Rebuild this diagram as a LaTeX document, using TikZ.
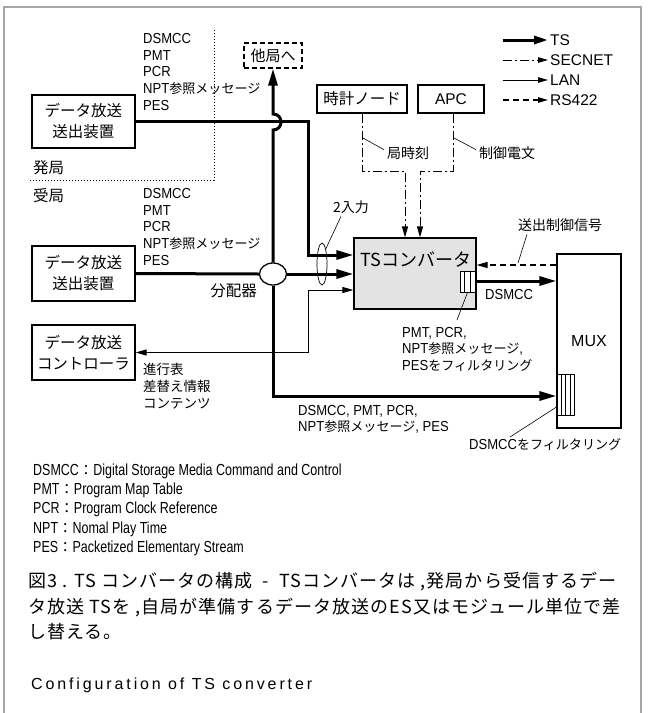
\documentclass[tikz,border=0pt]{standalone}
\usepackage{fontspec}
\setmainfont{Liberation Sans}
\newfontfamily\cnd{Liberation Sans}[FakeStretch=0.9]
\newfontfamily\cndd{Liberation Sans}[FakeStretch=0.78]
\newfontfamily\jp{Noto Sans CJK JP}
\newfontfamily\jps{Noto Sans CJK JP}[Scale=0.9]
\newfontfamily\capjp{Noto Sans CJK JP}[LetterSpace=6]
\newfontfamily\capen{Liberation Sans}[LetterSpace=18]
\usetikzlibrary{arrows.meta,calc,shapes.geometric}
\newcommand\J[1]{{\jps #1}}
\begin{document}
\begin{tikzpicture}[x=1pt,y=-1pt,
 lab/.style={inner sep=0pt, anchor=base west, font=\cnd\fontsize{14.5}{16}\selectfont},
 jlab/.style={inner sep=0pt, anchor=base west, font=\jp\fontsize{13.5}{16}\selectfont},
 jbox/.style={draw, line width=1.2pt, inner sep=0pt, align=center, font=\jp\fontsize{15.5}{21}\selectfont},
 tsl/.style={line width=3pt},
 tsa/.style={tsl, -{Triangle[length=17pt,width=9pt]}},
 lanl/.style={line width=1pt},
 tip/.style={-{Triangle[length=11pt,width=6pt]}},
 secl/.style={line width=1pt, dash pattern=on 9pt off 3pt on 2pt off 3pt},
 rsl/.style={line width=1.2pt, dash pattern=on 6pt off 4pt},
 lead/.style={line width=0.6pt},
 strip/.style={line width=0.8pt},
 lg/.style={inner sep=0pt, anchor=base west, font=\fontsize{15.5}{18}\selectfont},
]
\useasboundingbox (0,0) rectangle (648,713);
% frame
\draw[gray!70, line width=1.6pt] (4,713) -- (4,7) -- (641,7) -- (641,713);
% dotted divider
\draw[line width=0.8pt, dash pattern=on 1pt off 2pt] (214,30) -- (214,180) -- (30,180);

% boxes
\node[jbox, minimum width=103pt, minimum height=53pt] (sendA) at (83.5,121.5) {データ放送\\送出装置};
\node[jbox, minimum width=103pt, minimum height=55pt] (sendB) at (83.5,273.5) {データ放送\\送出装置};
\node[jbox, minimum width=103pt, minimum height=55pt] (ctrl) at (83.5,352.5) {データ放送\\コントローラ};
\node[jbox, dash pattern=on 5pt off 3pt, minimum width=58pt, minimum height=25pt, font=\jp\fontsize{15}{18}\selectfont] (other) at (273,55.5) {他局へ};
\node[jbox, minimum width=90pt, minimum height=28pt] (clock) at (362,99) {時計ノード};
\node[jbox, minimum width=66pt, minimum height=28pt, font=\fontsize{15.5}{18}\selectfont] (apc) at (451,99) {APC};
\node[jbox, fill=gray!22, minimum width=122pt, minimum height=71pt] (tsc) at (415,273.5) {};
\node[inner sep=0pt, anchor=base, font=\jp\fontsize{18}{20}\selectfont] (tsct) at (416,266.5) {TSコンバータ};
\node[jbox, minimum width=64pt, minimum height=174pt, font=\fontsize{16}{18}\selectfont] (mux) at (589,341) {MUX};

% filters
\node[draw, line width=1pt, fill=white, minimum width=15pt, minimum height=21pt, inner sep=0pt] (f1) at (467.5,281.5) {};
\draw[strip] ($(f1.north west)!1/3!(f1.north east)$) -- ($(f1.south west)!1/3!(f1.south east)$)
             ($(f1.north west)!2/3!(f1.north east)$) -- ($(f1.south west)!2/3!(f1.south east)$);
\node[draw, line width=1pt, fill=white, minimum width=17pt, minimum height=41pt, inner sep=0pt] (f2) at (565.5,394.5) {};
\draw[strip] ($(f2.north west)!1/4!(f2.north east)$) -- ($(f2.south west)!1/4!(f2.south east)$)
             ($(f2.north west)!2/4!(f2.north east)$) -- ($(f2.south west)!2/4!(f2.south east)$)
             ($(f2.north west)!3/4!(f2.north east)$) -- ($(f2.south west)!3/4!(f2.south east)$);

% distributor and 2-input ellipse
\node[ellipse, draw, line width=1.3pt, fill=white, minimum width=27pt, minimum height=22pt, inner sep=0pt] (dist) at (273,274) {};
\node[ellipse, draw, line width=0.7pt, minimum width=10pt, minimum height=42pt, inner sep=0pt] (two) at (322,264) {};

% TS connectors
\draw[tsa] (sendA.east) -- (308,121.5) |- ($(tsc.west)+(0,-18.5)$);
\draw[tsl] (sendB.east) -- (dist.west);
\draw[tsa] (dist.east) -- (tsc.west |- dist.east);
\draw[tsa] (dist.north) -- (273,130) .. controls (283.7,130) and (283.7,114) .. (273,114) -- (other.south);
\draw[tsa] (dist.south) -- (273,396) -- ($(mux.west)+(0,55)$);
\draw[tsa] ($(tsc.east)+(0,7.5)$) -- ($(mux.west)+(0,-60)$);
% LAN
\draw[lanl, {Triangle[length=11pt,width=6pt]}-{Triangle[length=11pt,width=6pt]}] (ctrl.east) -- (308,352.5) |- ($(tsc.west)+(0,16.5)$);
% SECNET
\draw[secl, tip] (clock.south) -- (362,171) -- (405,171) -- ($(tsc.north)+(-10,0)$);
\draw[secl, tip] ($(apc.south)+(2,0)$) -- (453,171) -- (420,171) -- ($(tsc.north)+(5,0)$);
% RS422
\draw[rsl, tip] ($(mux.west)+(0,-76)$) -- ($(tsc.east)+(0,-8.5)$);

% legend
\node[lg] (lgts) at (550,45.5) {TS};
\node[lg] (lgsec) at (550,65.5) {SECNET};
\node[lg] (lglan) at (550,85.5) {LAN};
\node[lg] (lgrs) at (550,105.5) {RS422};
\coordinate (l1a) at (503,40); \coordinate (l1b) at (548,40);
\coordinate (l2a) at (503,60); \coordinate (l2b) at (548,60);
\coordinate (l3a) at (503,80); \coordinate (l3b) at (548,80);
\coordinate (l4a) at (503,100); \coordinate (l4b) at (548,100);
\draw[tsl, -{Triangle[length=14pt,width=8pt]}] (l1a) -- (l1b);
\draw[secl, -{Triangle[length=10pt,width=5.5pt]}] (l2a) -- (l2b);
\draw[lanl, -{Triangle[length=10pt,width=5.5pt]}] (l3a) -- (l3b);
\draw[rsl, -{Triangle[length=10pt,width=5.5pt]}] (l4a) -- (l4b);

% station labels
\node[jlab, font=\jp\fontsize{15.5}{18}\selectfont] (hatsu) at (33,173) {発局};
\node[jlab, font=\jp\fontsize{15.5}{18}\selectfont] (uke) at (33,201) {受局};

% TS content lists
\foreach \t [count=\i] in {DSMCC,PMT,PCR,NPT\J{参照メッセージ},PES}
  \node[lab] (ta\i) at (143,{43.2+16.8*(\i-1)}) {\t};
\foreach \t [count=\i] in {DSMCC,PMT,PCR,NPT\J{参照メッセージ},PES}
  \node[lab] (tb\i) at (143,{198.2+16.8*(\i-1)}) {\t};
\foreach \t [count=\i] in {進行表,差替え情報,コンテンツ}
  \node[jlab] (tc\i) at (143,{374+17*(\i-1)}) {\t};

\node[inner sep=0pt, anchor=base east, font=\jp\fontsize{15.5}{18}\selectfont] (distl) at (257,296) {分配器};

% SECNET labels
\node[jlab, font=\jp\fontsize{14}{16}\selectfont] (kl) at (387,158) {局時刻};
\node[jlab, font=\jp\fontsize{14}{16}\selectfont] (sl) at (479,158) {制御電文};
\coordinate (k1) at (363,138); \coordinate (s1) at (454,138);
\draw[lead] (k1) -- ($(kl.west)+(-3,-3)$);
\draw[lead] (s1) -- ($(sl.west)+(-3,-3)$);

% 2 inputs
\node[jlab, font=\jp\fontsize{14}{16}\selectfont] (twol) at (333,212) {2入力};
\draw[lead] ($(twol.south west)+(8,3)$) -- (two.north east);

% send control signal
\node[jlab, font=\jp\fontsize{14}{16}\selectfont] (sig) at (518,230) {送出制御信号};
\coordinate (sig2) at (518,263);
\draw[lead] ($(sig.south west)+(9,3)$) -- (sig2);

% DSMCC output label
\node[lab] (dsm) at (485,299) {DSMCC};

% filter note TS converter
\node[lab] (fa1) at (402,337) {PMT, PCR,};
\node[lab] (fa2) at (402,353) {NPT\J{参照メッセージ},};
\node[lab] (fa3) at (402,370) {PES\J{をフィルタリング}};
\coordinate (fa0) at (457,320);
\draw[lead] (f1.south) -- (fa0);

% bottom arrow label
\node[lab] (bl1) at (298,415) {DSMCC, PMT, PCR,};
\node[lab] (bl2) at (298,431) {NPT\J{参照メッセージ}, PES};

% MUX filter note
\node[lab] (fb) at (469,449) {DSMCC\J{をフィルタリング}};
\coordinate (fb0) at (510,437);
\draw[lead] ($(f2.west)+(0,12.5)$) -- (fb0);

% definitions
\foreach \t [count=\i] in {{DSMCC\J{：}Digital Storage Media Command and Control},{PMT\J{：}Program Map Table},{PCR\J{：}Program Clock Reference},{NPT\J{：}Nomal Play Time},{PES\J{：}Packetized Elementary Stream}}
  \node[lab, font=\cndd\fontsize{16}{17}\selectfont] (def\i) at (33,{475.5+19.2*(\i-1)}) {\t};

% caption
\node[inner sep=0pt, anchor=base west, font=\capjp\fontsize{18}{24}\selectfont] (cap1) at (28,587) {図3 . TS コンバータの構成 \ - \ TSコンバータは ,発局から受信するデー};
\node[inner sep=0pt, anchor=base west, font=\capjp\fontsize{18}{24}\selectfont] (cap2) at (28,613) {タ放送 TSを ,自局が準備するデータ放送のES又はモジュール単位で差};
\node[inner sep=0pt, anchor=base west, font=\capjp\fontsize{18}{24}\selectfont] (cap3) at (28,638) {し替える。};
\node[inner sep=0pt, anchor=base west, font=\capen\fontsize{16}{18}\selectfont] (cap4) at (31,689) {Configuration of TS converter};
\end{tikzpicture}
\end{document}
